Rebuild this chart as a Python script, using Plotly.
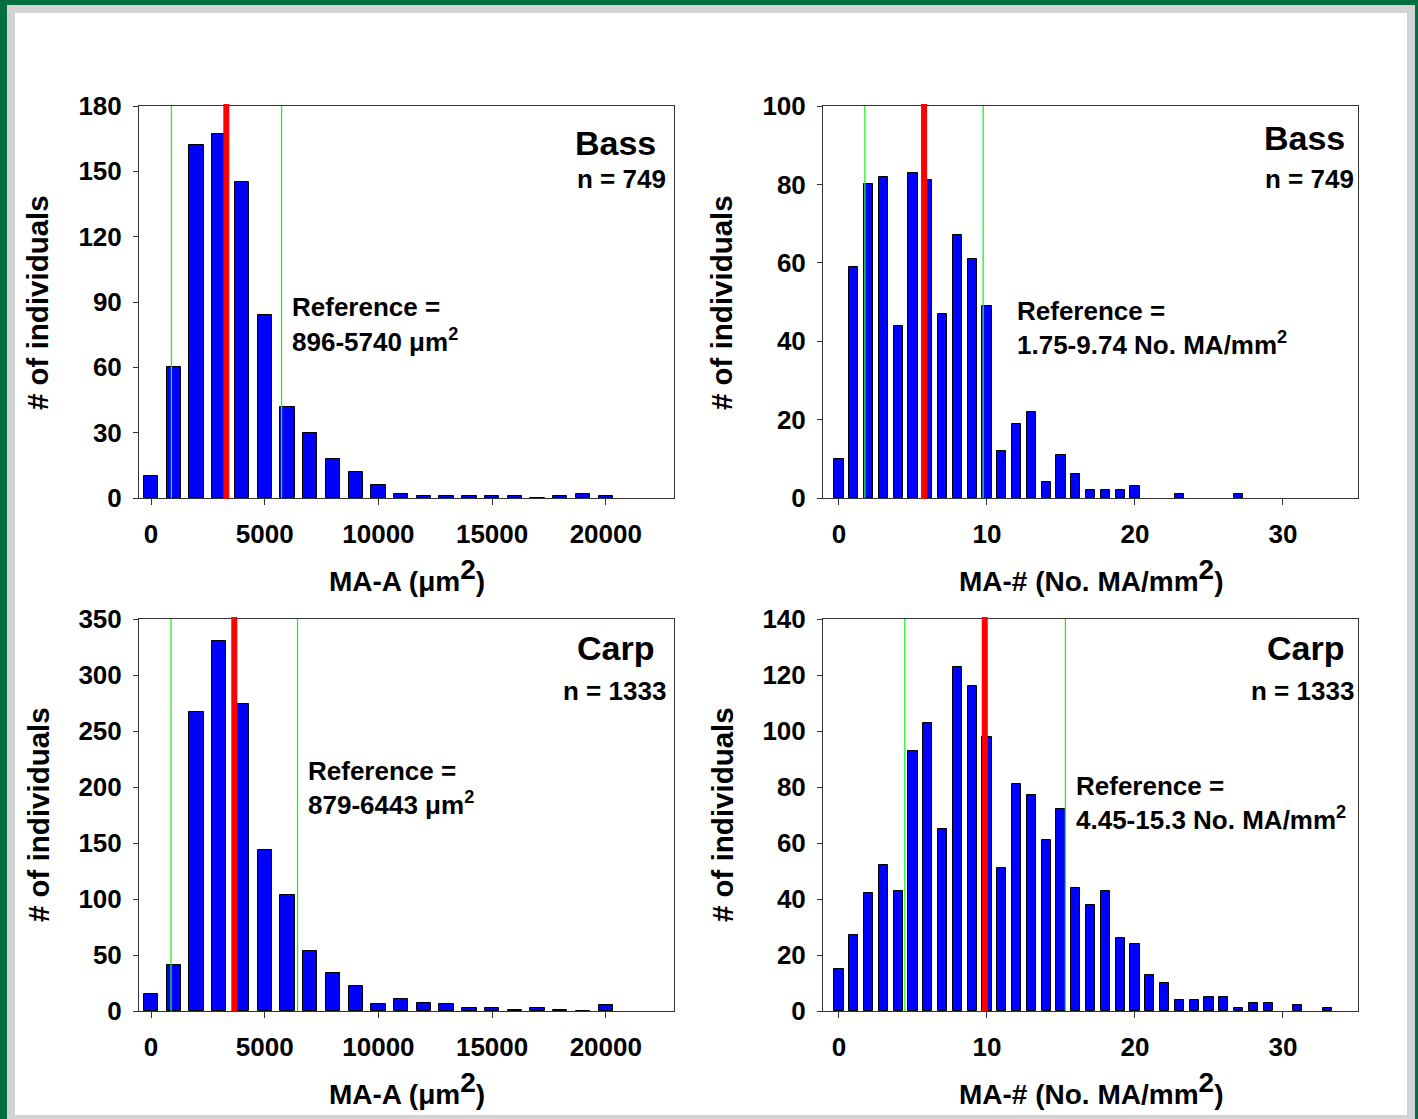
import plotly.graph_objects as go

# ---------------- data ----------------
area_bins = [0, 1000, 2000, 3000, 4000, 5000, 6000, 7000, 8000, 9000, 10000,
             11000, 12000, 13000, 14000, 15000, 16000, 17000, 18000, 19000, 20000]
bass_area_counts = [10, 60, 162, 167, 145, 84, 42, 30, 18, 12, 6,
                    2, 1, 1, 1, 1, 1, 0, 1, 2, 1]
carp_area_counts = [15, 41, 267, 330, 274, 144, 104, 54, 34, 22, 6,
                    11, 7, 6, 3, 3, 1, 3, 1, 0, 5]

bass_num_bins = [0, 1, 2, 3, 4, 5, 6, 7, 8, 9, 10, 11, 12, 13, 14, 15, 16,
                 17, 18, 19, 20, 23, 27]
bass_num_counts = [10, 59, 80, 82, 44, 83, 81, 47, 67, 61, 49, 12, 19, 22, 4,
                   11, 6, 2, 2, 2, 3, 1, 1]

carp_num_bins = [0, 1, 2, 3, 4, 5, 6, 7, 8, 9, 10, 11, 12, 13, 14, 15, 16, 17,
                 18, 19, 20, 21, 22, 23, 24, 25, 26, 27, 28, 29, 31, 33]
carp_num_counts = [15, 27, 42, 52, 43, 93, 103, 65, 123, 116, 98, 51, 81, 77,
                   61, 72, 44, 38, 43, 26, 24, 13, 10, 4, 4, 5, 5, 1, 3, 3, 2, 1]

# reference ranges (green) and central value (red)
bass_area_ref = [896, 5740]
bass_area_mid = 3310
bass_num_ref = [1.75, 9.74]
bass_num_mid = 5.75
carp_area_ref = [879, 6443]
carp_area_mid = 3660
carp_num_ref = [4.45, 15.3]
carp_num_mid = 9.85

area_ticks = [0, 5000, 10000, 15000, 20000]
num_ticks = [0, 10, 20, 30]
bass_area_yticks = [0, 30, 60, 90, 120, 150, 180]
bass_num_yticks = [0, 20, 40, 60, 80, 100]
carp_area_yticks = [0, 50, 100, 150, 200, 250, 300, 350]
carp_num_yticks = [0, 20, 40, 60, 80, 100, 120, 140]

# ---------------- layout helpers ----------------
W, H = 1418, 1119
FONT = "Liberation Sans, Arial, Helvetica, sans-serif"


def px(x):
    return x / W


def py(y):
    return 1 - y / H


fig = go.Figure()

panels = [
    ("x", "y", area_bins, bass_area_counts, 630, bass_area_ref, bass_area_mid,
     [-530, 23000], [0, 180], area_ticks, bass_area_yticks, [139, 674], [106, 498]),
    ("x2", "y2", bass_num_bins, bass_num_counts, 0.63, bass_num_ref, bass_num_mid,
     [-1.08, 35.07], [0, 100], num_ticks, bass_num_yticks, [823, 1358], [106, 498]),
    ("x3", "y3", area_bins, carp_area_counts, 630, carp_area_ref, carp_area_mid,
     [-530, 23000], [0, 350], area_ticks, carp_area_yticks, [139, 674], [619, 1011]),
    ("x4", "y4", carp_num_bins, carp_num_counts, 0.63, carp_num_ref, carp_num_mid,
     [-1.08, 35.07], [0, 140], num_ticks, carp_num_yticks, [823, 1358], [619, 1011]),
]

shapes = []
# frame: green border, grey band, white page
shapes.append(dict(type="rect", xref="paper", yref="paper", x0=px(7), x1=px(1415),
                   y0=py(1119), y1=py(5), fillcolor="#d3d3d3", line_width=0, layer="below"))
shapes.append(dict(type="rect", xref="paper", yref="paper", x0=px(15), x1=px(1407),
                   y0=py(1115), y1=py(13), fillcolor="white", line_width=0, layer="below"))

layout_axes = {}
for i, (xa, ya, bins, counts, bw, ref, mid, xr, yr, xt, yt, xd, yd) in enumerate(panels):
    fig.add_trace(go.Bar(
        x=bins, y=counts, width=bw, xaxis=xa, yaxis=ya,
        marker=dict(color="#0000ff", line=dict(color="black", width=1)),
        showlegend=False, hoverinfo="x+y",
    ))
    xkey = "xaxis" if xa == "x" else "xaxis" + xa[1:]
    ykey = "yaxis" if ya == "y" else "yaxis" + ya[1:]
    layout_axes[xkey] = dict(
        domain=[px(xd[0]), px(xd[1])], range=xr, anchor=ya,
        tickvals=xt, tickformat="d", ticks="outside", ticklen=6, tickwidth=1,
        tickcolor="#333", showline=True, linecolor="#333", linewidth=1, mirror=True,
        showgrid=False, zeroline=False, automargin=False,
        tickfont=dict(family=FONT, size=26, color="black", weight="bold"),
        ticklabelstandoff=7,
    )
    layout_axes[ykey] = dict(
        domain=[py(yd[1]), py(yd[0])], range=yr, anchor=xa,
        tickvals=yt, ticks="outside", ticklen=5, tickwidth=1,
        tickcolor="#333", showline=True, linecolor="#333", linewidth=1, mirror=True,
        showgrid=False, zeroline=False, automargin=False,
        tickfont=dict(family=FONT, size=26, color="black", weight="bold"),
        ticklabelstandoff=6,
    )
    for r in ref:
        shapes.append(dict(type="line", xref=xa, yref=ya + " domain", x0=r, x1=r, y0=0, y1=1,
                           line=dict(color="#1ff01f", width=1.3), layer="above"))
    shapes.append(dict(type="line", xref=xa, yref=ya + " domain", x0=mid, x1=mid, y0=-0.002, y1=1.005,
                       line=dict(color="#ff0000", width=6), layer="above"))

annotations = []


def ann(text, x, y, size, xanchor="left", yanchor="middle", textangle=0):
    annotations.append(dict(
        text=text, x=px(x), y=py(y), xref="paper", yref="paper",
        xanchor=xanchor, yanchor=yanchor, showarrow=False, textangle=textangle,
        font=dict(family=FONT, size=size, color="black", weight="bold"),
    ))


# panel titles / n
ann("Bass", 658, 143, 34, xanchor="right")
ann("n = 749", 668, 179, 26, xanchor="right")
ann("Bass", 1347, 138, 34, xanchor="right")
ann("n = 749", 1356, 179, 26, xanchor="right")
ann("Carp", 656, 648, 34, xanchor="right")
ann("n = 1333", 668, 691, 26, xanchor="right")
ann("Carp", 1346, 648, 34, xanchor="right")
ann("n = 1333", 1356, 691, 26, xanchor="right")

# reference texts
ann("Reference =", 290, 307, 26)
ann("896-5740 μm<sup>2</sup>", 290, 340, 26)
ann("Reference =", 1015, 311, 26)
ann("1.75-9.74 No. MA/mm<sup>2</sup>", 1015, 343, 26)
ann("Reference =", 306, 771, 26)
ann("879-6443 μm<sup>2</sup>", 306, 803, 26)
ann("Reference =", 1074, 786, 26)
ann("4.45-15.3 No. MA/mm<sup>2</sup>", 1074, 818, 26)

# axis titles
SUP2 = '<sup><span style="font-size:28px">2</span></sup>'
ann("MA-A (μm" + SUP2 + ")", 407, 575, 28, xanchor="center")
ann("MA-# (No. MA/mm" + SUP2 + ")", 1091, 575, 28, xanchor="center")
ann("MA-A (μm" + SUP2 + ")", 407, 1088, 28, xanchor="center")
ann("MA-# (No. MA/mm" + SUP2 + ")", 1091, 1088, 28, xanchor="center")
ann("# of individuals", 38, 303, 29.5, xanchor="center", textangle=-90)
ann("# of individuals", 722, 303, 29.5, xanchor="center", textangle=-90)
ann("# of individuals", 38, 815, 29.5, xanchor="center", textangle=-90)
ann("# of individuals", 722, 815, 29.5, xanchor="center", textangle=-90)

fig.update_layout(
    width=W, height=H, autosize=False,
    margin=dict(l=0, r=0, t=0, b=0, pad=0),
    paper_bgcolor="#04703f", plot_bgcolor="white",
    font=dict(family=FONT, color="black"),
    bargap=0, showlegend=False,
    shapes=shapes, annotations=annotations,
    **layout_axes,
)

fig.write_html("out.html")
